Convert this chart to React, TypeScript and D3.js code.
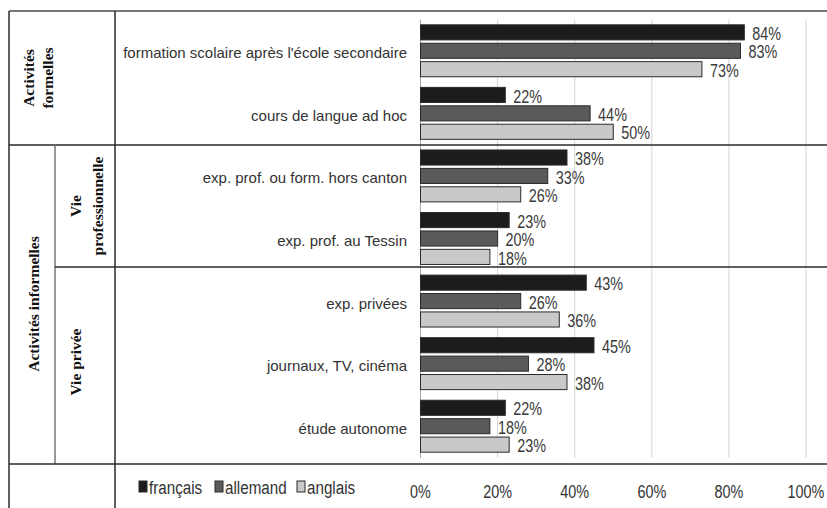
import React from "react";
import * as d3 from "d3";

// categories (top to bottom)
const categories = [
  "formation scolaire après l'école secondaire",
  "cours de langue ad hoc",
  "exp. prof. ou form. hors canton",
  "exp. prof. au Tessin",
  "exp. privées",
  "journaux, TV, cinéma",
  "étude autonome",
];

const series = ["français", "allemand", "anglais"];
const francais = [84, 22, 38, 23, 43, 45, 22];
const allemand = [83, 44, 33, 20, 26, 28, 18];
const anglais = [73, 50, 26, 18, 36, 38, 23];
const ticks = [0, 20, 40, 60, 80, 100];

const colors = ["#1c1c1c", "#5a5a5a", "#c9c9c9"];
const sans = "'Liberation Sans', Arial, sans-serif";
const serif = "'Liberation Serif', 'Times New Roman', serif";

const W = 827;
const H = 508;

// text squeezed horizontally, the source uses a tall narrow face
const Narrow = ({ x, y, size, anchor = "start", fill = "#333", children }: any) => (
  <g transform={`translate(${x},${y}) scale(0.8,1)`}>
    <text
      textAnchor={anchor}
      dominantBaseline="central"
      fontFamily={sans}
      fontSize={size}
      fill={fill}
    >
      {children}
    </text>
  </g>
);

const App = () => {
  const values = [francais, allemand, anglais];

  const x = d3.scaleLinear().domain([0, 100]).range([420.5, 806]);
  const y = d3
    .scaleBand()
    .domain(categories)
    .range([19.5, 457.5])
    .paddingInner(0.17)
    .paddingOuter(0.085);
  const ys = d3
    .scaleBand()
    .domain(series)
    .range([0, y.bandwidth()])
    .paddingInner(0.18);

  const line = "#2a2a2a";
  const grey = "#777";

  return (
    <svg
      width={W}
      height={H}
      style={{ position: "absolute", left: 0, top: 0, background: "#fff" }}
    >
      <rect width={W} height={H} fill="#fff" />

      {/* gridlines */}
      {ticks.map((t) => (
        <line
          key={t}
          x1={x(t)}
          x2={x(t)}
          y1={19.5}
          y2={458}
          stroke={t === 0 ? "#a8a8a8" : "#d4d4d4"}
          strokeWidth={1}
        />
      ))}

      {/* bars */}
      {categories.map((c, i) => (
        <g key={c} transform={`translate(0,${y(c)})`}>
          {series.map((s, k) => (
            <g key={s}>
              <rect
                x={x(0)}
                y={ys(s)}
                width={x(values[k][i]) - x(0)}
                height={ys.bandwidth()}
                fill={colors[k]}
                stroke="#2b2b2b"
                strokeWidth={1}
              />
              <Narrow
                x={x(values[k][i]) + 8}
                y={(ys(s) as number) + ys.bandwidth() / 2 + 1}
                size={18}
                fill="#3a3a3a"
              >
                {values[k][i]}%
              </Narrow>
            </g>
          ))}
          <text
            x={407}
            y={y.bandwidth() / 2 + 2}
            textAnchor="end"
            dominantBaseline="central"
            fontFamily={sans}
            fontSize={15}
            fill="#333"
          >
            {c}
          </text>
        </g>
      ))}

      {/* x tick labels */}
      {ticks.map((t) => (
        <Narrow key={t} x={x(t)} y={491} size={18} anchor="middle">
          {t}%
        </Narrow>
      ))}

      {/* legend */}
      {series.map((s, k) => {
        const lx = [139, 215, 297][k];
        return (
          <g key={s}>
            <rect
              x={lx}
              y={481}
              width={8}
              height={11}
              fill={colors[k]}
              stroke="#2b2b2b"
              strokeWidth={1}
            />
            <Narrow x={lx + 10} y={487} size={19}>
              {s}
            </Narrow>
          </g>
        );
      })}

      {/* table frame */}
      <line x1={9} x2={W} y1={11} y2={11} stroke={grey} strokeWidth={2} />
      <line x1={9} x2={9} y1={11} y2={H} stroke={line} strokeWidth={1.5} />
      <line x1={115} x2={115} y1={11} y2={H} stroke={line} strokeWidth={1.5} />
      <line x1={9} x2={W} y1={145} y2={145} stroke={line} strokeWidth={1.5} />
      <line x1={55} x2={55} y1={145} y2={464} stroke={grey} strokeWidth={1.5} />
      <line x1={55} x2={W} y1={267} y2={267} stroke={line} strokeWidth={1.5} />
      <line x1={9} x2={W} y1={464} y2={464} stroke={line} strokeWidth={1.5} />

      {/* group labels */}
      <g fontFamily={serif} fontWeight="bold" fontSize={15.5} fill="#111">
        <text
          transform="translate(28,78) rotate(-90)"
          textAnchor="middle"
          dominantBaseline="central"
        >
          Activités
        </text>
        <text
          transform="translate(47,78) rotate(-90)"
          textAnchor="middle"
          dominantBaseline="central"
        >
          formelles
        </text>
        <text
          transform="translate(33,304) rotate(-90)"
          textAnchor="middle"
          dominantBaseline="central"
        >
          Activités informelles
        </text>
        <text
          transform="translate(75,206) rotate(-90)"
          textAnchor="middle"
          dominantBaseline="central"
        >
          Vie
        </text>
        <text
          transform="translate(97,206) rotate(-90)"
          textAnchor="middle"
          dominantBaseline="central"
        >
          professionnelle
        </text>
        <text
          transform="translate(75,362) rotate(-90)"
          textAnchor="middle"
          dominantBaseline="central"
        >
          Vie privée
        </text>
      </g>
    </svg>
  );
};

export default App;
